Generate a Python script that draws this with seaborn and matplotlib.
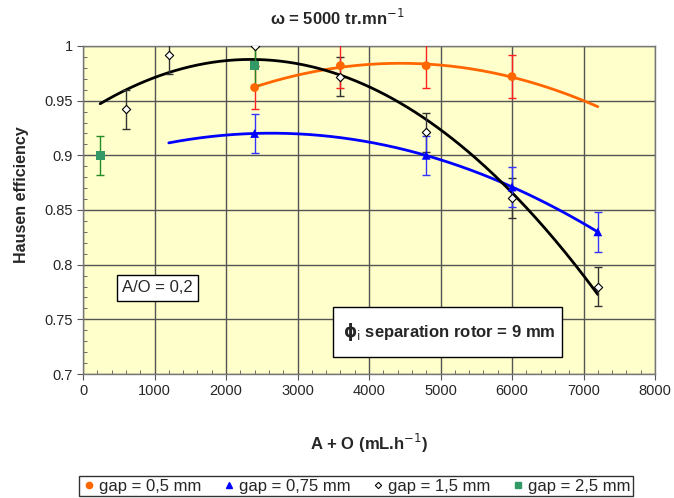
import numpy as np
import pandas as pd
import matplotlib
matplotlib.use('Agg')
import matplotlib.pyplot as plt
from matplotlib.ticker import MultipleLocator
from matplotlib.lines import Line2D
from matplotlib.patches import Rectangle
import seaborn as sns

# Data (A + O in mL/h, Hausen efficiency)
x_05 = [2400, 3600, 4800, 6000]
y_05 = [0.962, 0.982, 0.982, 0.972]
x_075 = [2400, 4800, 6000, 7200]
y_075 = [0.92, 0.90, 0.871, 0.83]
x_15 = [600, 1200, 2400, 3600, 4800, 6000, 7200]
y_15 = [0.942, 0.992, 1.00, 0.972, 0.921, 0.861, 0.78]
x_25 = [240, 2400]
y_25 = [0.90, 0.982]
err_05 = 0.02
err_075 = 0.018
err_15 = 0.018
err_25 = 0.018

# trendline (2nd order polynomial) extents
trend_05 = (2400, 7200)
trend_075 = (1200, 7200)
trend_15 = (240, 7200)

labels = ['gap = 0,5 mm', 'gap = 0,75 mm', 'gap = 1,5 mm', 'gap = 2,5 mm']

sns.set_style('white')
plt.rcParams['font.family'] = ['Liberation Sans', 'DejaVu Sans']

fig = plt.figure(figsize=(6.74, 4.98), dpi=100)
ax = fig.add_axes([83 / 674, 124 / 498, 572 / 674, 328 / 498])
ax.set_facecolor('#FFFFCC')

# trend lines
def trend(x, y, rng, color):
    c = np.polyfit(x, y, 2)
    xs = np.linspace(rng[0], rng[1], 200)
    df = pd.DataFrame({'x': xs, 'y': np.polyval(c, xs)})
    sns.lineplot(data=df, x='x', y='y', color=color, lw=2, ax=ax, zorder=3)

trend(x_05, y_05, trend_05, '#FF6600')
trend(x_075, y_075, trend_075, '#0000FF')
trend(x_15, y_15, trend_15, 'black')

# error bars
ax.errorbar(x_15, y_15, yerr=err_15, fmt='none', ecolor='#333333', elinewidth=1, capsize=3, zorder=4)
ax.errorbar(x_05, y_05, yerr=err_05, fmt='none', ecolor='#FF2020', elinewidth=1, capsize=3, zorder=4)
ax.errorbar(x_075, y_075, yerr=err_075, fmt='none', ecolor='#3333FF', elinewidth=1, capsize=3, zorder=4)
ax.errorbar(x_25, y_25, yerr=err_25, fmt='none', ecolor='#228B22', elinewidth=1, capsize=3, zorder=4)

# markers
sns.scatterplot(x=x_05, y=y_05, marker='o', color='#FF6600', s=40, edgecolor='none', ax=ax, zorder=5)
sns.scatterplot(x=x_075, y=y_075, marker='^', color='#0000FF', s=40, edgecolor='none', ax=ax, zorder=5)
sns.scatterplot(x=x_15, y=y_15, marker='D', color='white', s=18, edgecolor='black', linewidth=0.8, ax=ax, zorder=5)
sns.scatterplot(x=x_25, y=y_25, marker='s', color='#339966', s=40, edgecolor='none', ax=ax, zorder=5)

ax.set_xlim(0, 8000)
ax.set_ylim(0.7, 1.0)
ax.xaxis.set_major_locator(MultipleLocator(1000))
ax.xaxis.set_minor_locator(MultipleLocator(200))
ax.yaxis.set_minor_locator(MultipleLocator(0.01))
ax.set_yticks([0.7, 0.75, 0.8, 0.85, 0.9, 0.95, 1.0])
ax.set_yticklabels(['0.7', '0.75', '0.8', '0.85', '0.9', '0.95', '1'])
ax.grid(True, which='major', color='#555555', lw=1)
ax.tick_params(which='major', direction='out', length=4, labelsize=10.5, color='#555555')
ax.tick_params(which='minor', direction='in', length=3, color='#555555')
ax.tick_params(axis='x', which='both', bottom=True)
ax.tick_params(axis='y', which='both', left=True)
for s in ax.spines.values():
    s.set_color('#777777')
    s.set_linewidth(1)

ax.set_xlabel('A + O (mL.h$^{-1}$)', fontsize=12, fontweight='bold')
ax.xaxis.set_label_coords(0.5, -0.177)
ax.set_ylabel('Hausen efficiency', fontsize=11.5, fontweight='bold')
ax.yaxis.set_label_coords(-0.094, 0.546)
fig.text(0.5, 1 - 18 / 498, 'ω = 5000 tr.mn$^{-1}$', fontsize=12, fontweight='bold',
         ha='center', va='center')

ax.text(545, 0.7787, 'A/O = 0,2', fontsize=12, va='center', ha='left', zorder=6,
        bbox=dict(boxstyle='square,pad=0.32', fc='white', ec='black', lw=1))
ax.add_patch(Rectangle((3497, 0.7155), 3202, 0.0458, fc='white', ec='black', lw=1, zorder=6))
ax.text(3636, 0.7384, r'$\mathbf{\phi}_\mathrm{i}$ separation rotor = 9 mm', fontsize=12,
        fontweight='bold', va='center', ha='left', zorder=7)

handles = [
    Line2D([], [], marker='o', color='#FF6600', ls='none', markersize=4.5),
    Line2D([], [], marker='^', color='#0000FF', ls='none', markersize=4.5),
    Line2D([], [], marker='D', mfc='white', mec='black', ls='none', markersize=3.2, mew=0.8),
    Line2D([], [], marker='s', color='#339966', ls='none', markersize=4.5),
]
fig.legend(handles, labels, loc='lower center', bbox_to_anchor=(356 / 674, 0.0), ncol=4,
           fontsize=12, frameon=True, fancybox=False, edgecolor='black',
           handletextpad=0.15, columnspacing=1.2, borderpad=0.15, handlelength=0.9,
           borderaxespad=0.1)

fig.savefig('out.png', dpi=100)
